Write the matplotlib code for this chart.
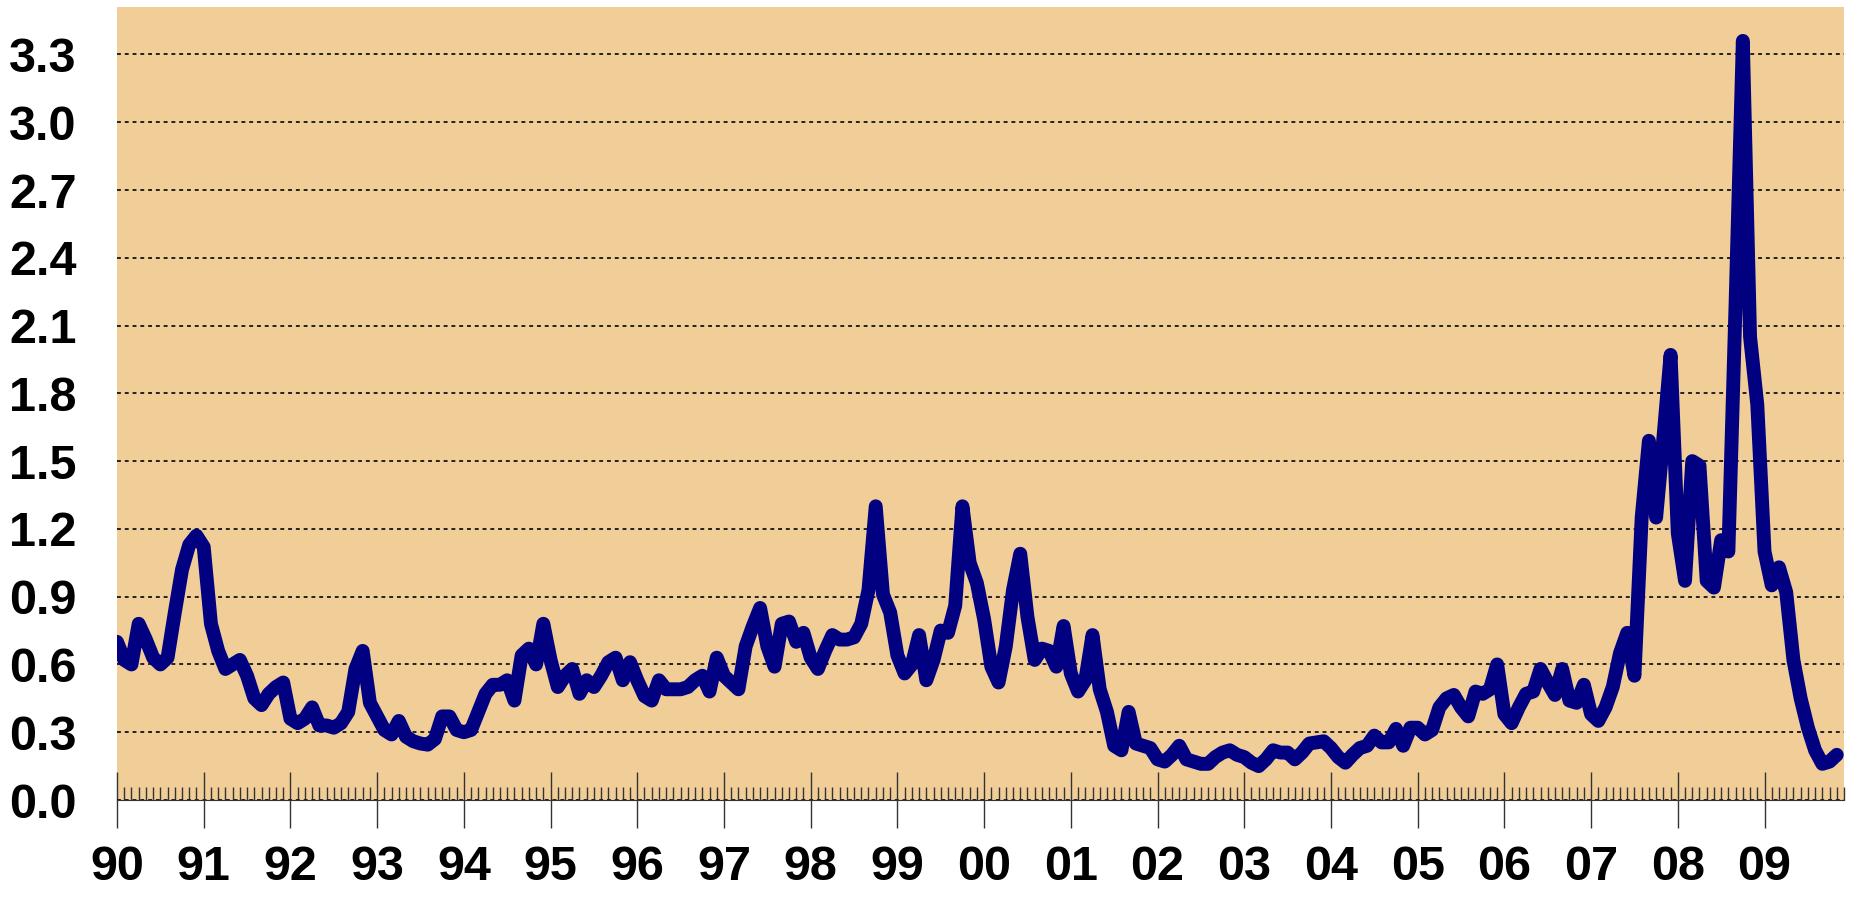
import matplotlib
matplotlib.use('Agg')
import matplotlib.pyplot as plt
import numpy as np
from matplotlib.ticker import MultipleLocator, FixedLocator

# monthly values, Jan 1990 .. Nov 2009
values_1990_94 = [0.70, 0.62, 0.60, 0.78, 0.71, 0.63, 0.60, 0.63, 0.83, 1.02, 1.13, 1.17,
                  1.12, 0.78, 0.66, 0.58, 0.60, 0.62, 0.55, 0.45, 0.42, 0.47, 0.50, 0.52,
                  0.36, 0.34, 0.36, 0.41, 0.33, 0.33, 0.32, 0.34, 0.39, 0.58, 0.66, 0.43,
                  0.37, 0.31, 0.29, 0.35, 0.28, 0.26, 0.25, 0.245, 0.27, 0.37, 0.37, 0.31,
                  0.30, 0.31, 0.39, 0.47, 0.51, 0.51, 0.53, 0.44, 0.64, 0.67, 0.60, 0.78]
values_1995_99 = [0.62, 0.50, 0.55, 0.58, 0.47, 0.53, 0.50, 0.55, 0.61, 0.63, 0.53, 0.61,
                  0.53, 0.46, 0.44, 0.53, 0.49, 0.49, 0.49, 0.50, 0.53, 0.55, 0.48, 0.63,
                  0.55, 0.52, 0.49, 0.68, 0.77, 0.85, 0.68, 0.59, 0.78, 0.79, 0.70, 0.74,
                  0.63, 0.58, 0.66, 0.73, 0.71, 0.71, 0.72, 0.78, 0.93, 1.30, 0.91, 0.83,
                  0.64, 0.56, 0.60, 0.73, 0.53, 0.62, 0.75, 0.74, 0.86, 1.30, 1.05, 0.96]
values_2000_04 = [0.80, 0.59, 0.52, 0.68, 0.93, 1.09, 0.81, 0.62, 0.67, 0.66, 0.59, 0.77,
                  0.56, 0.48, 0.53, 0.73, 0.49, 0.39, 0.24, 0.22, 0.39, 0.25, 0.24, 0.23,
                  0.18, 0.17, 0.20, 0.24, 0.18, 0.17, 0.16, 0.16, 0.19, 0.21, 0.22, 0.20,
                  0.19, 0.165, 0.15, 0.18, 0.22, 0.21, 0.21, 0.18, 0.21, 0.25, 0.255, 0.26,
                  0.23, 0.19, 0.165, 0.20, 0.23, 0.24, 0.285, 0.255, 0.255, 0.315, 0.24, 0.32]
values_2005_09 = [0.32, 0.29, 0.31, 0.41, 0.45, 0.465, 0.41, 0.37, 0.48, 0.47, 0.49, 0.60,
                  0.38, 0.34, 0.41, 0.47, 0.48, 0.58, 0.52, 0.465, 0.58, 0.44, 0.43, 0.51,
                  0.38, 0.35, 0.41, 0.50, 0.65, 0.74, 0.55, 1.25, 1.59, 1.25, 1.60, 1.97,
                  1.18, 0.97, 1.50, 1.48, 0.97, 0.94, 1.15, 1.10, 2.20, 3.36, 2.05, 1.75,
                  1.10, 0.95, 1.03, 0.92, 0.62, 0.45, 0.32, 0.22, 0.16, 0.17, 0.20]

year_ticks = list(range(1990, 2010))
year_labels = ['90', '91', '92', '93', '94', '95', '96', '97', '98', '99',
               '00', '01', '02', '03', '04', '05', '06', '07', '08', '09']

values = np.array(values_1990_94 + values_1995_99 + values_2000_04 + values_2005_09)
x = 1990 + np.arange(len(values)) / 12.0

plt.rcParams['font.family'] = ['Liberation Sans', 'DejaVu Sans']

fig = plt.figure(figsize=(18.52, 9.01), dpi=100)
ax = fig.add_axes([117 / 1852, 1 - 800 / 901, (1844 - 117) / 1852, (800 - 7) / 901])
ax.set_facecolor('#F1CD97')

ax.plot(x, values, color='#000080', lw=10, solid_joinstyle='round', solid_capstyle='round', zorder=3)

ax.set_xlim(1990, 1990 + 239 / 12)
ax.set_ylim(0, 3.51)

ax.yaxis.set_major_locator(MultipleLocator(0.3))
ax.yaxis.set_major_formatter(matplotlib.ticker.FormatStrFormatter('%.1f'))
ax.xaxis.set_major_locator(FixedLocator(year_ticks))
ax.set_xticklabels(year_labels)
ax.xaxis.set_minor_locator(MultipleLocator(1 / 12))

ax.grid(axis='y', color='#222222', lw=1.4, ls=(0, (2, 2)))
ax.set_axisbelow(True)

for s in ['top', 'right', 'left']:
    ax.spines[s].set_visible(False)
ax.spines['bottom'].set_color('#333333')
ax.spines['bottom'].set_linewidth(0.8)

ax.tick_params(axis='y', length=0, pad=29, labelsize=35)
ax.tick_params(axis='x', which='major', direction='inout', length=41, width=1.0,
               color='#333333', pad=12, labelsize=35)
ax.tick_params(axis='x', which='minor', direction='in', length=9.5, width=1.0, color='#333333')
for lab in ax.get_xticklabels() + ax.get_yticklabels():
    lab.set_fontweight('bold')

fig.savefig('out.png', dpi=100)
